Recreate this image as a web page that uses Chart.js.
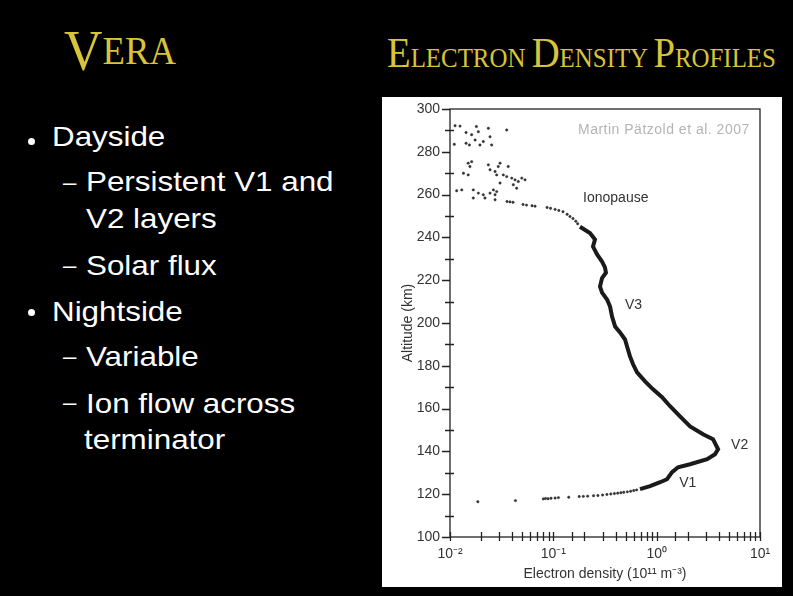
<!DOCTYPE html>
<html>
<head>
<meta charset="utf-8">
<script src="https://cdn.jsdelivr.net/npm/chart.js@4"></script>
<style>
  html, body { margin: 0; padding: 0; background: #000; }
  body { width: 793px; height: 596px; position: relative; overflow: hidden; font-family: Arial, "Liberation Sans", sans-serif; }
  .ttl { position: absolute; color: #d9c33b; font-family: "Liberation Serif", "DejaVu Serif", serif; white-space: nowrap; transform-origin: 0 0; line-height: 1; }
  .line { position: absolute; color: #fff; font-size: 28px; line-height: 28px; white-space: nowrap; transform-origin: 0 0; transform: scaleX(1.12); }
  .dash { position: absolute; color: #fff; font-size: 24px; line-height: 24px; }
  .dot { position: absolute; width: 7px; height: 7px; border-radius: 50%; background: #fff; }
  #panel { position: absolute; left: 382px; top: 97px; width: 400px; height: 490px; background: #fff; }
  #credit { position: absolute; left: 578px; top: 121px; font-size: 14px; letter-spacing: 0.5px; color: #b4b4b4; white-space: nowrap; }
</style>
</head>
<body>

<div id="logo" class="ttl" style="left:64px; top:16px; font-size:40px;"><span style="font-size:58px; position:relative; top:6px;">V</span>ERA</div>
<div id="head" class="ttl" style="left:387px; top:32px; font-size:27px;"><span style="font-size:42px;">E</span>LECTRON <span style="font-size:42px;">D</span>ENSITY <span style="font-size:42px;">P</span>ROFILES</div>

<div class="dot" style="left:28px; top:138px;"></div>
<div class="line" style="left:52px; top:123px;">Dayside</div>
<div class="dash" style="left:63px; top:170px;">–</div>
<div class="line" style="left:86px; top:168px;">Persistent V1 and</div>
<div class="line" style="left:86px; top:205px;">V2 layers</div>
<div class="dash" style="left:63px; top:253px;">–</div>
<div class="line" style="left:86px; top:252px;">Solar flux</div>
<div class="dot" style="left:28px; top:309px;"></div>
<div class="line" style="left:52px; top:298px;">Nightside</div>
<div class="dash" style="left:63px; top:344px;">–</div>
<div class="line" style="left:86px; top:343px;">Variable</div>
<div class="dash" style="left:63px; top:390px;">–</div>
<div class="line" style="left:86px; top:390px;">Ion flow across</div>
<div class="line" style="left:84px; top:426px;">terminator</div>

<div id="panel"><canvas id="graph"></canvas></div>
<div id="credit">Martin Pätzold et al. 2007</div>

<script>
// Venus electron density profile (VeRa radio occultation)

const yTickLabels = [100, 120, 140, 160, 180, 200, 220, 240, 260, 280, 300];
const xTickLabels = ['10⁻²', '10⁻¹', '10⁰', '10¹'];

// solid part of the profile, bottom to top
const profileDensity = [0.69, 0.863, 1.08, 1.26, 1.41, 1.61, 2.105, 3.08, 3.67, 3.93, 3.51, 2.81, 2.105,
  1.683, 1.348, 1.128, 0.923, 0.772, 0.646, 0.591, 0.552, 0.517, 0.494, 0.442, 0.396, 0.37, 0.354,
  0.331, 0.296, 0.283, 0.296, 0.323, 0.316, 0.296, 0.265, 0.242, 0.253, 0.226, 0.181];
const profileAltitude = [122.4, 123.8, 125.6, 127, 130.3, 132.6, 134, 136.4, 138.7, 141, 145.7, 148, 151.7,
  156.4, 161.1, 165.3, 169, 172.7, 176.9, 180.7, 184.4, 189, 192.3, 195.6, 198.4, 203, 207.7,
  211, 214.2, 217, 221, 223.5, 226, 228.7, 232, 235.7, 239, 242, 245];

// single samples: bottom side, ionopause, and noise above it
const sparseDensity = [0.0186, 0.043, 0.08, 0.084, 0.089, 0.095, 0.104, 0.112, 0.141, 0.178, 0.195, 0.215,
  0.245, 0.27, 0.3, 0.33, 0.36, 0.39, 0.42, 0.45, 0.48, 0.52, 0.56, 0.6, 0.64,
  0.0356, 0.038, 0.0407, 0.0509, 0.055, 0.0622, 0.0665, 0.087, 0.094, 0.104, 0.113, 0.124, 0.136, 0.145, 0.155, 0.165, 0.172,
  0.0112, 0.0125, 0.0143, 0.0162, 0.018, 0.0188, 0.0143, 0.0154, 0.0175, 0.0195, 0.021, 0.0235, 0.0244, 0.0253, 0.0354, 0.011,
  0.015, 0.0162, 0.0156, 0.0135, 0.015, 0.0235, 0.0244, 0.0273, 0.0305, 0.0293, 0.0328, 0.0366, 0.0354, 0.0396, 0.0426,
  0.0458, 0.0495, 0.0532, 0.041, 0.0442, 0.0305, 0.0283,
  0.0116, 0.013, 0.0168, 0.0188, 0.021, 0.0244, 0.0263, 0.0273, 0.0283, 0.0168, 0.0218, 0.0273];
const sparseAltitude = [116.5, 117, 117.8, 118, 117.9, 118.1, 118.2, 118.4, 118.6, 118.9, 119, 119.1,
  119.3, 119.4, 119.6, 119.9, 120.1, 120.3, 120.5, 120.7, 120.9, 121.1, 121.4, 121.7, 122,
  256.8, 256.6, 256.4, 255.4, 255.1, 254.8, 254.6, 254, 253.6, 253.1, 252.6, 252, 250.8, 249.8, 248.8, 247.6, 246.4,
  292.2, 292, 289, 288, 291.8, 289.4, 284, 283.2, 285.5, 283.2, 284.8, 291, 287, 283.2, 290.2, 283.5,
  274.7, 275.4, 273.1, 270, 269.2, 273.9, 271.6, 270.8, 274.7, 273.1, 269.2, 273.1, 268.4, 267.7, 266.9,
  266.1, 267.7, 266.9, 264.6, 263, 265.4, 269.2,
  261.8, 262.2, 262.2, 260.7, 259.9, 260.7, 262.2, 259.9, 261.4, 258.4, 258.4, 257.6];

const noteTexts = ['Ionopause', 'V3', 'V2', 'V1'];
const noteDensity = [0.194, 0.494, 5.25, 1.65];
const noteAltitude = [258.5, 208.5, 142.9, 125.2];

function fitWidth(id, w) {
  const el = document.getElementById(id);
  el.style.transform = 'scaleX(' + (w / el.offsetWidth) + ')';
}
fitWidth('logo', 112);
fitWidth('head', 389);

const frame = {
  id: 'frame',
  afterDraw(chart) {
    const { ctx, chartArea: a, scales: { x, y } } = chart;
    ctx.save();
    ctx.strokeStyle = '#222';
    ctx.lineWidth = 1.3;
    ctx.strokeRect(a.left, a.top, a.right - a.left, a.bottom - a.top);
    ctx.beginPath();
    x.ticks.forEach(t => {
      const px = Math.round(x.getPixelForValue(t.value)) + 0.5;
      ctx.moveTo(px, a.bottom - 5);
      ctx.lineTo(px, a.bottom + 4);
    });
    y.ticks.forEach(t => {
      const py = Math.round(y.getPixelForValue(t.value)) + 0.5;
      if (t.value % 20 === 0) {
        ctx.moveTo(a.left - 8, py);
        ctx.lineTo(a.left, py);
      } else {
        ctx.moveTo(a.left - 5, py);
        ctx.lineTo(a.left + 4, py);
      }
    });
    ctx.stroke();

    // curve labels
    ctx.fillStyle = '#333';
    ctx.font = '14px Arial';
    ctx.textAlign = 'left';
    ctx.textBaseline = 'middle';
    noteTexts.forEach((s, i) => {
      ctx.fillText(s, x.getPixelForValue(noteDensity[i]), y.getPixelForValue(noteAltitude[i]));
    });
    ctx.restore();
  }
};

const ctx = document.getElementById('graph').getContext('2d');

new Chart(ctx, {
  type: 'scatter',
  data: {
    datasets: [{
      label: 'profile',
      data: profileDensity.map((d, i) => ({ x: d, y: profileAltitude[i] })),
      showLine: true,
      borderColor: '#1a1a1a',
      borderWidth: 4,
      pointRadius: 0,
      tension: 0
    }, {
      label: 'samples',
      data: sparseDensity.map((d, i) => ({ x: d, y: sparseAltitude[i] })),
      pointRadius: 1.2,
      backgroundColor: '#333',
      borderColor: '#333',
      borderWidth: 0.5
    }]
  },
  options: {
    responsive: true,
    maintainAspectRatio: false,
    animation: false,
    layout: { padding: { left: 18, top: 12, right: 22, bottom: 4 } },
    plugins: { legend: { display: false }, tooltip: { enabled: false } },
    scales: {
      x: {
        type: 'logarithmic',
        min: 0.01,
        max: 10,
        afterFit(s) { s.height = 46; },
        grid: { display: false },
        border: { display: false },
        ticks: {
          autoSkip: false,
          maxRotation: 0,
          padding: 1,
          color: '#333',
          font: { size: 14, family: 'Arial' },
          callback(v) {
            const e = Math.log10(v);
            if (Math.abs(e - Math.round(e)) > 1e-6) return '';
            return xTickLabels[Math.round(e) + 2] || '';
          }
        },
        title: { display: true, text: 'Electron density (10¹¹ m⁻³)', color: '#333', font: { size: 14, family: 'Arial' }, padding: 0 }
      },
      y: {
        min: 100,
        max: 300,
        afterFit(s) { s.width = 50; },
        grid: { display: false },
        border: { display: false },
        ticks: {
          stepSize: 10,
          autoSkip: false,
          padding: 2,
          color: '#333',
          font: { size: 14, family: 'Arial' },
          callback(v) { return yTickLabels.includes(v) ? String(v) : ''; }
        },
        title: { display: true, text: 'Altitude (km)', color: '#333', font: { size: 14, family: 'Arial' }, padding: 0 }
      }
    }
  },
  plugins: [frame]
});
</script>
</body>
</html>
